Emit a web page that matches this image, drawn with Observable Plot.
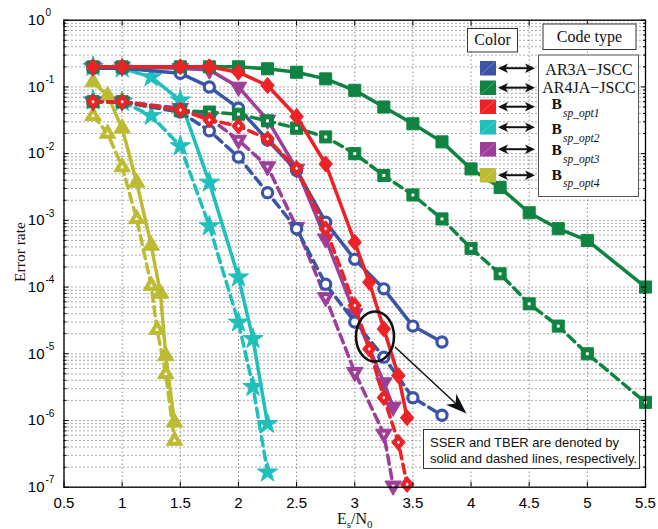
<!DOCTYPE html>
<html><head><meta charset="utf-8">
<script src="https://cdn.jsdelivr.net/npm/d3@7"></script>
<script src="https://cdn.jsdelivr.net/npm/@observablehq/plot@0.6"></script>
<style>body{margin:0;background:#fff;} #chart{width:658px;height:529px;}</style>
</head><body><div id="chart"></div>
<script>
// ---------- ticks ----------
const xTicks = [0.5,1,1.5,2,2.5,3,3.5,4,4.5,5,5.5];
const xTickLabels = ["0.5","1","1.5","2","2.5","3","3.5","4","4.5","5","5.5"];
const yTicks = [1,1e-1,1e-2,1e-3,1e-4,1e-5,1e-6,1e-7];
const yTickExps = ["0","-1","-2","-3","-4","-5","-6","-7"];
const yMinorMultipliers = [2,3,4,5,6,7,8,9];

// ---------- data ----------
// AR3A-JSCC (blue, circles)
const es_ar3a = [0.75,1,1.5,1.75,2,2.25,2.5,2.75,3,3.25,3.5,3.75];
const sser_ar3a = [0.19,0.19,0.16,0.1,0.048,0.016,0.0056,9.4e-4,2.6e-4,9.4e-5,2.6e-5,1.5e-5];
const tber_ar3a = [0.06,0.059,0.042,0.022,0.0089,0.0026,7.5e-4,1.1e-4,3e-5,8.9e-6,2.2e-6,1.2e-6];
// AR4JA-JSCC (green, squares)
const es_ar4ja = [0.75,1,1.5,1.75,2,2.25,2.5,2.75,3,3.25,3.5,3.75,4,4.25,4.5,4.75,5,5.5];
const sser_ar4ja = [0.2,0.2,0.2,0.2,0.2,0.187,0.166,0.132,0.089,0.05,0.028,0.015,0.0059,0.0031,0.0013,7.5e-4,5e-4,1e-4];
const tber_ar4ja = [0.06,0.06,0.044,0.042,0.039,0.031,0.024,0.0178,0.01,0.0047,0.0024,0.00105,3.8e-4,1.58e-4,5.6e-5,2.6e-5,1e-5,1.87e-6];
// B_sp_opt1 (red, diamonds)
const es_opt1 = [0.75,1,1.5,1.75,2,2.25,2.5,2.75,3,3.125,3.25,3.375,3.45];
const sser_opt1 = [0.2,0.2,0.2,0.2,0.166,0.105,0.036,0.007,4.7e-4,1.18e-4,2.36e-5,4.7e-6,1.1e-6];
const tber_opt1 = [0.06,0.06,0.045,0.032,0.026,0.0166,0.006,7.5e-4,5.3e-5,1.18e-5,2.2e-6,4.7e-7,1.1e-7];
// B_sp_opt2 (cyan, stars)
const es_opt2 = [0.75,1,1.25,1.5,1.75,2,2.125,2.25];
const sser_opt2 = [0.2,0.19,0.14,0.063,0.0037,1.4e-4,1.67e-5,8.9e-7];
const tber_opt2 = [0.063,0.06,0.037,0.013,8.2e-4,2.95e-5,3.2e-6,1.67e-7];
// B_sp_opt3 (purple, down triangles)
const es_opt3 = [0.75,1,1.5,1.75,2,2.25,2.5,2.75,3,3.25,3.33];
const sser_opt3 = [0.2,0.2,0.19,0.18,0.1,0.032,0.0059,5.3e-4,4e-5,3.7e-6,1.6e-6];
const tber_opt3 = [0.06,0.06,0.048,0.034,0.016,0.0064,7.9e-4,7e-5,5.3e-6,6.3e-7,1.05e-7];
// B_sp_opt4 (olive, up triangles)
const es_opt4_sser = [0.75,0.875,1,1.125,1.25,1.33,1.375,1.45];
const sser_opt4 = [0.118,0.074,0.024,0.0037,4.2e-4,8e-5,9.3e-6,9.4e-7];
const es_opt4_tber = [0.75,0.875,1,1.125,1.25,1.3,1.375,1.45];
const tber_opt4 = [0.037,0.02,0.0063,0.00105,1.05e-4,2.3e-5,5e-6,5e-7];

// legend
const legendColors = ["#3b54a5","#0f8442","#ec2227","#1fbfbc","#9d3f99","#bdbb31"];
const legendNames = ["AR3A\u2212JSCC","AR4JA\u2212JSCC"];
const legendSubs = ["sp_opt1","sp_opt2","sp_opt3","sp_opt4"];
const noteLines = ["SSER and TBER are denoted by","solid and dashed lines, respectively."];

// ---------- symbols ----------
const triDown = {draw(ctx, size){const y=Math.sqrt(size/(Math.sqrt(3)*3)); ctx.moveTo(0,2*y); ctx.lineTo(-Math.sqrt(3)*y,-y); ctx.lineTo(Math.sqrt(3)*y,-y); ctx.closePath();}};
const diamondSym = {draw(ctx, size){const r=Math.sqrt(size/Math.PI); ctx.moveTo(0,-1.2*r); ctx.lineTo(1.0*r,0); ctx.lineTo(0,1.2*r); ctx.lineTo(-1.0*r,0); ctx.closePath();}};

const rows = (xs, ys) => xs.map((x,i) => ({x, y: ys[i]}));

function series(xs, ys, color, dashed, sym, r, opts = {}) {
  const data = rows(xs, ys);
  const m = [Plot.line(data, {x:"x", y:"y", stroke: color, strokeWidth: 3.5, strokeDasharray: dashed ? "9,5.5" : null})];
  if (opts.ring) {
    m.push(Plot.dot(data, {x:"x", y:"y", symbol: sym, r, fill: "white", stroke: color, strokeWidth: 3.2}));
  } else {
    m.push(Plot.dot(data, {x:"x", y:"y", symbol: sym, r, fill: color, stroke: color, strokeWidth: 1}));
    if (dashed && !opts.noHole) m.push(Plot.dot(data, {x:"x", y:"y", symbol: sym, r: r*0.24, fill: "white", stroke: "none"}));
  }
  return m;
}

const [cBlue,cGreen,cRed,cCyan,cPurple,cOlive] = legendColors;
const yMinor = yTicks.slice(1).flatMap(t => yMinorMultipliers.map(m => t*m));
const grid = "#555";

const plot = Plot.plot({
  width: 658, height: 529,
  marginLeft: 63.5, marginRight: 13, marginTop: 19.7, marginBottom: 42.3,
  x: {domain: [0.5, 5.5], label: null},
  y: {type: "log", domain: [1e-7, 1], label: null},
  style: {fontFamily: "'Liberation Sans', Arial, sans-serif", background: "white", overflow: "visible"},
  marks: [
    Plot.ruleX(xTicks, {x: d => d, stroke: grid, strokeDasharray: "1,3"}),
    Plot.ruleY(yTicks.concat(yMinor), {y: d => d, stroke: grid, strokeDasharray: "1,3"}),
    ...series(es_opt2, sser_opt2, cCyan, false, "star", 6.4),
    ...series(es_opt2, tber_opt2, cCyan, true, "star", 6.4, {noHole: true}),
    ...series(es_opt4_sser, sser_opt4, cOlive, false, "triangle", 6.1),
    ...series(es_opt4_tber, tber_opt4, cOlive, true, "triangle", 6.1),
    ...series(es_opt3, sser_opt3, cPurple, false, triDown, 6.1),
    ...series(es_opt3, tber_opt3, cPurple, true, triDown, 6.1),
    ...series(es_ar3a, sser_ar3a, cBlue, false, "circle", 5.1, {ring: true}),
    ...series(es_ar3a, tber_ar3a, cBlue, true, "circle", 5.1, {ring: true}),
    ...series(es_ar4ja, sser_ar4ja, cGreen, false, "square", 6.8),
    ...series(es_ar4ja, tber_ar4ja, cGreen, true, "square", 6.8),
    ...series(es_opt1, sser_opt1, cRed, false, diamondSym, 6.7),
    ...series(es_opt1, tber_opt1, cRed, true, diamondSym, 6.7),
    Plot.frame({stroke: "black", strokeWidth: 1.3}),
    Plot.axisX({anchor: "bottom", ticks: xTicks, tickSize: -5, tickPadding: 15, fontSize: 15, tickFormat: d => xTickLabels[xTicks.indexOf(d)], label: null}),
    Plot.axisX({anchor: "top", ticks: xTicks, tickSize: -5, tickFormat: () => "", label: null}),
    Plot.axisY({anchor: "left", ticks: yTicks, tickSize: -5, tickFormat: () => "", label: null}),
    Plot.axisY({anchor: "left", ticks: yMinor, tickSize: -3, tickFormat: () => "", label: null}),
    Plot.axisY({anchor: "right", ticks: yTicks, tickSize: -5, tickFormat: () => "", label: null}),
    Plot.axisY({anchor: "right", ticks: yMinor, tickSize: -3, tickFormat: () => "", label: null}),
    Plot.text(yTicks, {frameAnchor: "left", y: d => d, text: () => "10", textAnchor: "end", dx: -19.5, fontSize: 15}),
    Plot.text(yTicks, {frameAnchor: "left", y: d => d, text: (d, i) => yTickExps[i], textAnchor: "start", dx: -18.5, dy: -7, fontSize: 10})
  ]
});
document.getElementById("chart").appendChild(plot);

// ---------- overlay: legend, labels, annotation ----------
const svg = d3.select(plot);
const serif = "'Liberation Serif', 'Times New Roman', serif";
const g = svg.append("g").attr("text-anchor", "start");
const txt = (x, y, s, size, family, anchor = "start") =>
  g.append("text").attr("x", x).attr("y", y).attr("text-anchor", anchor).attr("font-family", family).attr("font-size", size).attr("fill", "#111").text(s);

// header boxes
g.append("rect").attr("x",467.5).attr("y",28.5).attr("width",50).attr("height",23.5).attr("fill","white").attr("stroke","#333").attr("stroke-width",1);
txt(492.5, 44.5, "Color", 16, serif, "middle");
g.append("rect").attr("x",543).attr("y",24).attr("width",93).attr("height",25.5).attr("fill","white").attr("stroke","#333").attr("stroke-width",1);
txt(589.5, 42, "Code type", 16, serif, "middle");

// text box
g.append("rect").attr("x",538.5).attr("y",55).attr("width",100).attr("height",141.5).attr("fill","white").attr("stroke","#555").attr("stroke-width",1);
const sqTops = [61,80.5,99.5,120,142,168];
sqTops.forEach((t, i) => {
  g.append("rect").attr("x",480).attr("y",t).attr("width",16).attr("height",14.5).attr("fill",legendColors[i]);
  g.append("line").attr("x1",480.5).attr("y1",t+14).attr("x2",495.5).attr("y2",t+0.5).attr("stroke","white").attr("stroke-opacity",0.35).attr("stroke-width",0.8);
  const cy = t + 7.2, x1 = 498, x2 = 535;
  g.append("line").attr("x1",x1+6).attr("x2",x2-6).attr("y1",cy).attr("y2",cy).attr("stroke","#111").attr("stroke-width",2);
  g.append("path").attr("d",`M${x1},${cy}L${x1+10},${cy-4.8}L${x1+7.5},${cy}L${x1+10},${cy+4.8}Z`).attr("fill","#111");
  g.append("path").attr("d",`M${x2},${cy}L${x2-10},${cy-4.8}L${x2-7.5},${cy}L${x2-10},${cy+4.8}Z`).attr("fill","#111");
});
txt(589, 75, legendNames[0], 16, serif, "middle");
txt(589, 92.5, legendNames[1], 16, serif, "middle");
const bBase = [109,134,155,179.5];
const subBase = [116.5,142,163,187];
legendSubs.forEach((s, i) => {
  txt(551.5, bBase[i], "B", 15.5, serif).attr("font-weight", "bold");
  txt(563, subBase[i], s, 11.5, serif).attr("font-style", "italic");
});

// axis labels
g.append("text").attr("transform","translate(24.5,252) rotate(-90)").attr("text-anchor","middle").attr("font-family",serif).attr("font-size",15.5).attr("fill","#111").text("Error rate");
const xl = txt(337, 524, "", 16, serif);
xl.append("tspan").text("E");
xl.append("tspan").attr("font-size",11).attr("dy",4).text("s");
xl.append("tspan").attr("dy",-4).text("/N");
xl.append("tspan").attr("font-size",11).attr("dy",4).text("0");

// annotation
g.append("ellipse").attr("cx",375).attr("cy",336.5).attr("rx",19).attr("ry",25).attr("fill","none").attr("stroke","#111").attr("stroke-width",2.6);
const ax1 = 395, ay1 = 347, ax2 = 466.5, ay2 = 413.5;
const ang = Math.atan2(ay2-ay1, ax2-ax1);
const L = 21, W = 7.5;
const bx = ax2 - L*Math.cos(ang), by = ay2 - L*Math.sin(ang);
const mx = ax2 - 0.7*L*Math.cos(ang), my = ay2 - 0.7*L*Math.sin(ang);
g.append("line").attr("x1",ax1).attr("y1",ay1).attr("x2",mx).attr("y2",my).attr("stroke","#111").attr("stroke-width",1.5);
g.append("path").attr("d",`M${ax2},${ay2}L${bx - W*Math.sin(ang)},${by + W*Math.cos(ang)}L${mx},${my}L${bx + W*Math.sin(ang)},${by - W*Math.cos(ang)}Z`).attr("fill","#111");
g.append("rect").attr("x",423.5).attr("y",429.5).attr("width",216).attr("height",39).attr("fill","white").attr("stroke","#333").attr("stroke-width",1);
noteLines.forEach((t, i) => txt(430, 446.5 + i*16, t, 13, "'Liberation Sans', Arial, sans-serif"));
</script>
</body></html>
